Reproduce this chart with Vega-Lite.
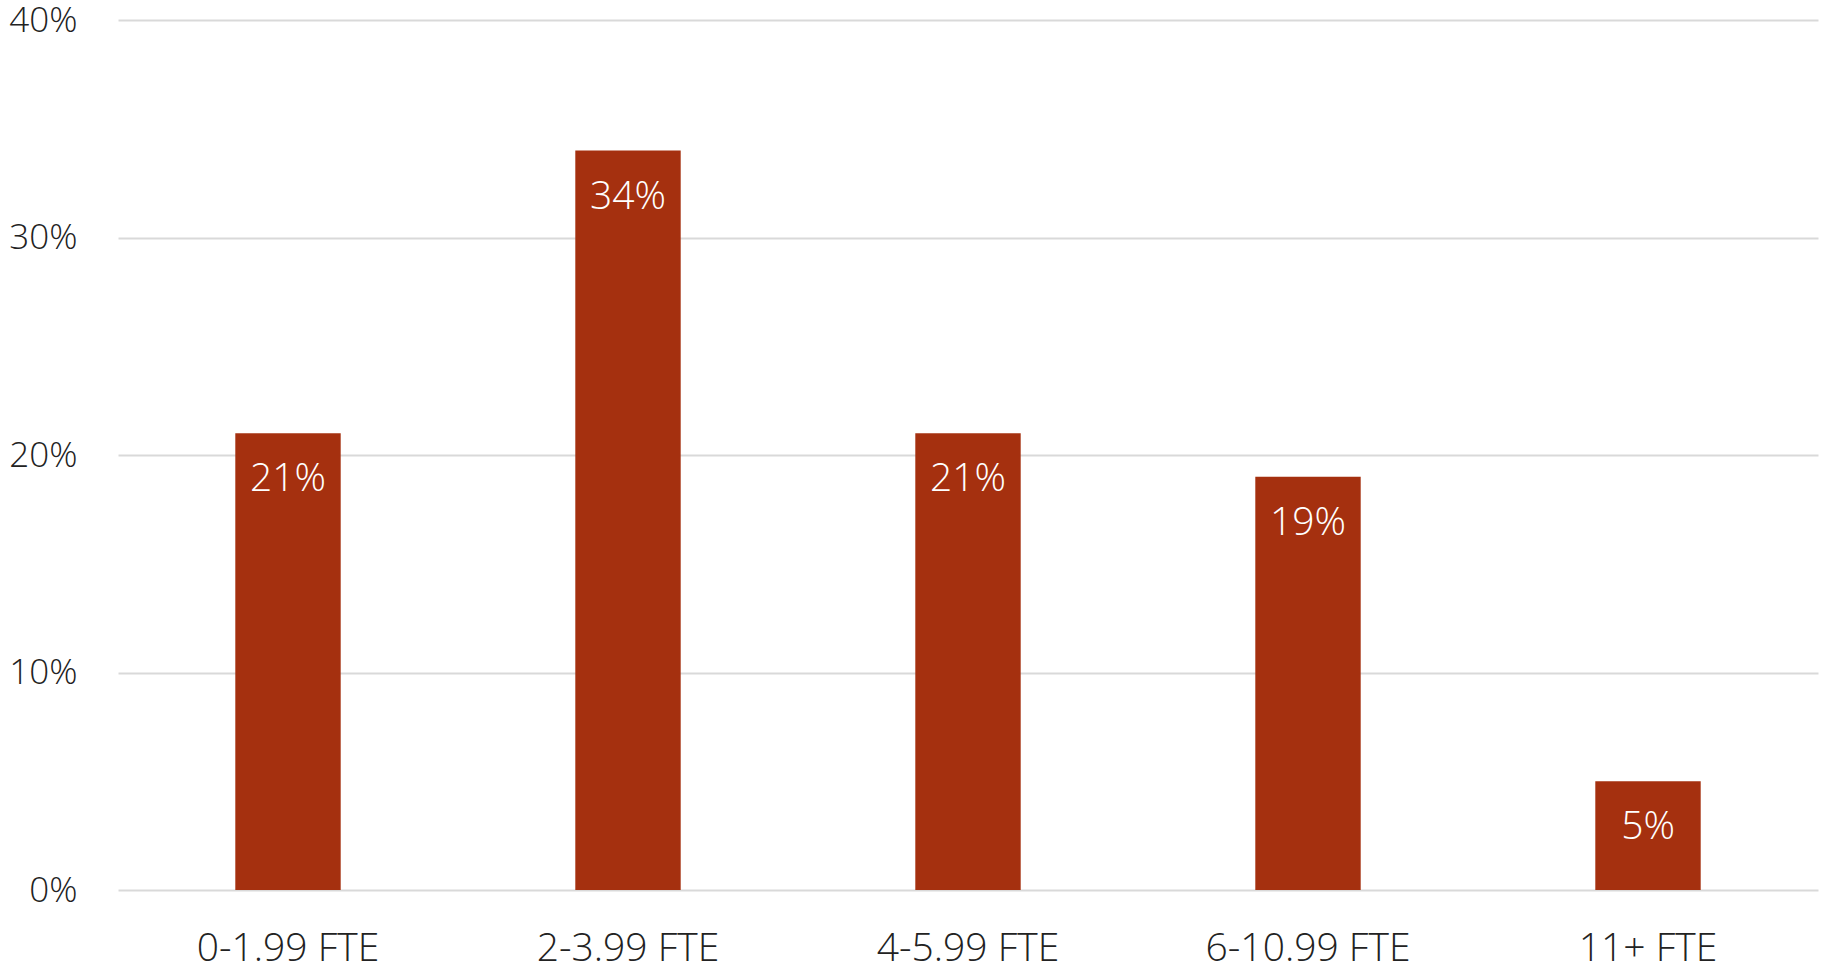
{
  "$schema": "https://vega.github.io/schema/vega-lite/v6.json",
  "autosize": {"type": "none"},
  "padding": {"left": 118, "top": 20, "right": 3, "bottom": 81},
  "width": 1700,
  "height": 870,
  "background": "white",
  "config": {
    "view": {"stroke": null},
    "font": "Open Sans",
    "axis": {"labelFont": "Open Sans", "labelColor": "#222222", "labelFontWeight": 300, "labelLimit": 500}
  },
  "data": {
    "values": [
      {"category": "0-1.99 FTE", "value": 0.21},
      {"category": "2-3.99 FTE", "value": 0.34},
      {"category": "4-5.99 FTE", "value": 0.21},
      {"category": "6-10.99 FTE", "value": 0.19},
      {"category": "11+ FTE", "value": 0.05}
    ]
  },
  "encoding": {
    "x": {
      "field": "category",
      "type": "nominal",
      "sort": null,
      "scale": {"paddingInner": 0.69, "paddingOuter": 0.345},
      "axis": {
        "title": null,
        "labelAngle": 0,
        "labelFontSize": 39,
        "labelBaseline": "alphabetic",
        "labelPadding": 70,
        "ticks": false,
        "domain": false,
        "grid": false
      }
    },
    "y": {
      "field": "value",
      "type": "quantitative",
      "scale": {"domain": [0, 0.4], "nice": false},
      "axis": {
        "title": null,
        "format": ".0%",
        "values": [0, 0.1, 0.2, 0.3, 0.4],
        "labelFontSize": 35,
        "labelPadding": 41,
        "ticks": false,
        "domain": false,
        "grid": true,
        "gridColor": "#d9d9d9",
        "gridWidth": 2
      }
    }
  },
  "layer": [
    {"mark": {"type": "bar", "color": "#A5300F"}},
    {
      "mark": {"type": "text", "color": "white", "fontSize": 39, "fontWeight": 300, "baseline": "alphabetic", "dy": 58, "align": "center"},
      "encoding": {"text": {"field": "value", "type": "quantitative", "format": ".0%"}}
    }
  ]
}
